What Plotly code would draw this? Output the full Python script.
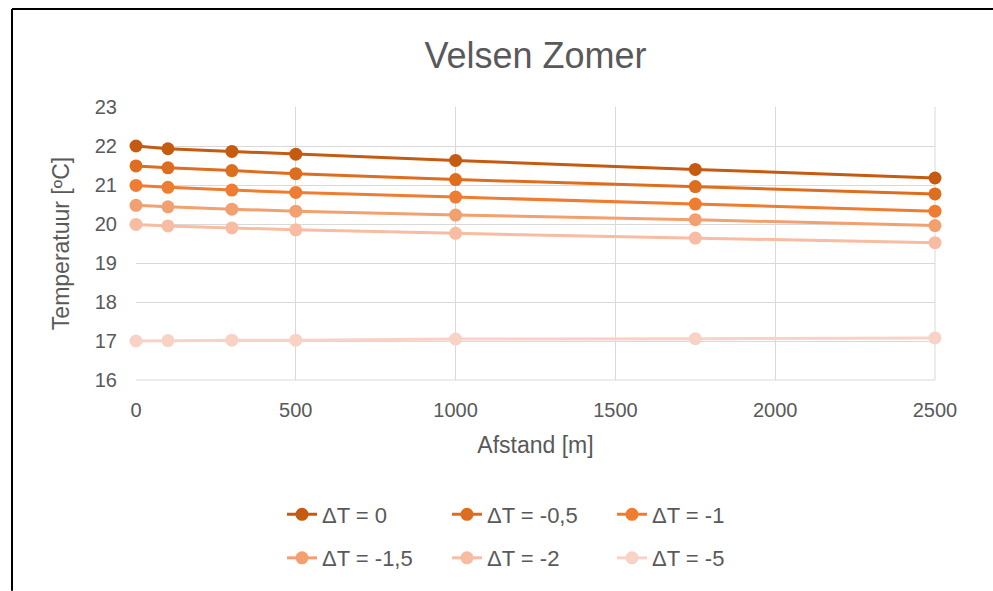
import plotly.graph_objects as go

# Distance from the coast [m]
afstand = [0, 100, 300, 500, 1000, 1750, 2500]

# Temperature per scenario [ºC]
dt_0 = [22.00, 21.93, 21.86, 21.79, 21.63, 21.40, 21.18]
dt_05 = [21.49, 21.44, 21.37, 21.29, 21.14, 20.96, 20.77]
dt_1 = [20.99, 20.94, 20.87, 20.81, 20.69, 20.51, 20.33]
dt_15 = [20.48, 20.44, 20.38, 20.33, 20.23, 20.11, 19.96]
dt_2 = [19.99, 19.95, 19.90, 19.85, 19.76, 19.64, 19.52]
dt_5 = [17.00, 17.01, 17.02, 17.02, 17.05, 17.06, 17.08]

namen = ["ΔT = 0", "ΔT = -0,5", "ΔT = -1", "ΔT = -1,5", "ΔT = -2", "ΔT = -5"]
reeksen = [dt_0, dt_05, dt_1, dt_15, dt_2, dt_5]
kleuren = ["#C55A11", "#DD6D1F", "#EE7D31", "#F3A070", "#F7BCA2", "#F9D2C6"]

FONT = "Liberation Sans"
GRIJS = "#595959"

fig = go.Figure()
for i, (naam, y, kleur) in enumerate(zip(namen, reeksen, kleuren)):
    fig.add_trace(go.Scatter(
        x=afstand, y=y, name=naam, mode="lines+markers",
        line=dict(color=kleur, width=3),
        marker=dict(color=kleur, size=13),
        cliponaxis=False,
        legend="legend" if i < 3 else "legend2",
    ))

W, H = 993, 591
L, R, T, B = 136, 58, 107, 208
pw, ph = W - L - R, H - T - B


def px(xp):
    return (xp - L) / pw


def py(yp):
    return (H - B - yp) / ph


leg_common = dict(
    orientation="h", xanchor="left", yanchor="middle",
    entrywidth=120, entrywidthmode="pixels",
    font=dict(family=FONT, size=22, color=GRIJS),
    bgcolor="rgba(0,0,0,0)", itemwidth=30,
)

fig.update_layout(
    width=W, height=H,
    margin=dict(l=L, r=R, t=T, b=B),
    paper_bgcolor="white", plot_bgcolor="white",
    font=dict(family=FONT, color=GRIJS),
    title=dict(text="Velsen Zomer", x=0.5, xref="paper", xanchor="center",
               y=1 - 55 / H, yanchor="middle",
               font=dict(family=FONT, size=36, color=GRIJS)),
    xaxis=dict(
        range=[0, 2500], tickvals=[0, 500, 1000, 1500, 2000, 2500],
        showgrid=True, gridcolor="#D9D9D9", gridwidth=1,
        zeroline=False, showline=False, ticks="",
        ticklabelstandoff=16,
        tickfont=dict(family=FONT, size=20, color=GRIJS),
        title=dict(text="Afstand [m]", standoff=16,
                   font=dict(family=FONT, size=23, color=GRIJS)),
    ),
    yaxis=dict(
        range=[16, 23], dtick=1,
        showgrid=True, gridcolor="#D9D9D9", gridwidth=1,
        zeroline=False, showline=False, ticks="",
        ticklabelstandoff=18,
        tickfont=dict(family=FONT, size=20, color=GRIJS),
        title=dict(text="Temperatuur [ºC]", standoff=18,
                   font=dict(family=FONT, size=23, color=GRIJS)),
    ),
    legend=dict(x=px(282), y=py(519), **leg_common),
    legend2=dict(x=px(282), y=py(563), **leg_common),
    showlegend=True,
    shapes=[
        # outer chart frame (left and top edges)
        dict(type="line", xref="paper", yref="paper",
             x0=px(12), x1=px(12), y0=py(8), y1=py(H + 5),
             line=dict(color="black", width=2)),
        dict(type="line", xref="paper", yref="paper",
             x0=px(12), x1=px(W + 5), y0=py(8), y1=py(8),
             line=dict(color="black", width=2)),
        # right and bottom edges of the plot area
        dict(type="line", xref="paper", yref="paper",
             x0=1, x1=1, y0=0, y1=1,
             line=dict(color="#D9D9D9", width=1), layer="below"),
        dict(type="line", xref="paper", yref="paper",
             x0=0, x1=1, y0=0, y1=0,
             line=dict(color="#D9D9D9", width=1), layer="below"),
    ],
)

fig.write_html("out.html")
